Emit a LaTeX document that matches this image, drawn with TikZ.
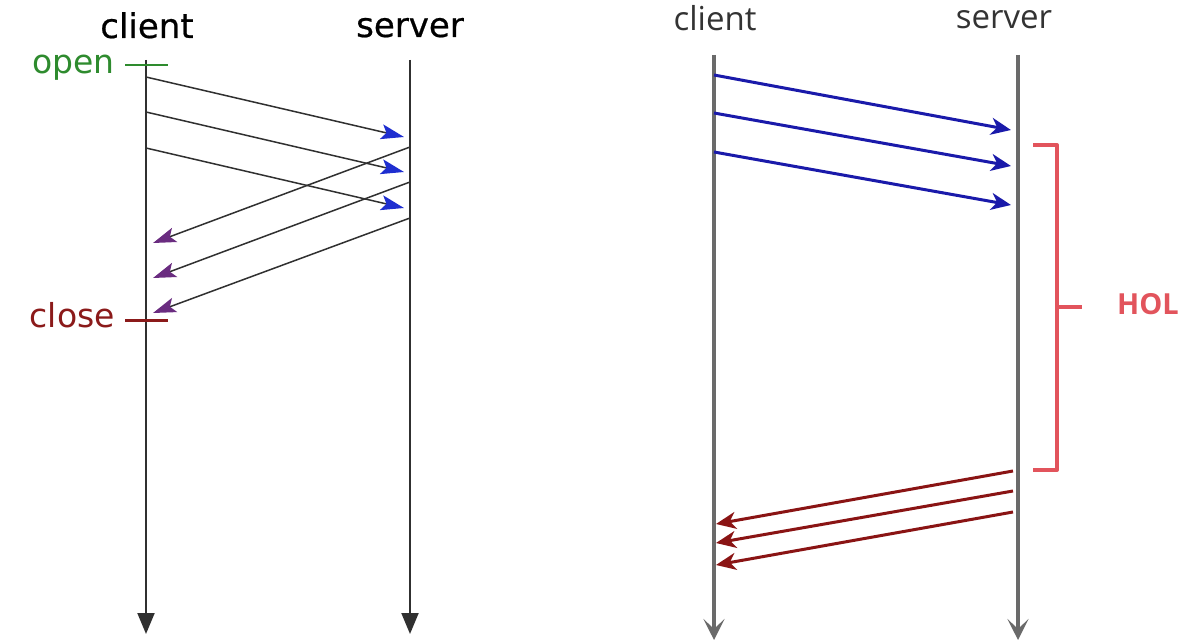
\documentclass[tikz,border=0pt]{standalone}
\usepackage{fontspec}
\setmainfont{DejaVu Sans}
\newfontfamily\osans{Open Sans}
\newfontfamily\dvheavy[FakeBold=0.6]{DejaVu Sans}
\usetikzlibrary{arrows.meta}
\definecolor{lline}{HTML}{303030}
\definecolor{rline}{HTML}{6A6A6A}
\definecolor{tipblue}{HTML}{1E2ED0}
\definecolor{tippurple}{HTML}{6A2C80}
\definecolor{msgblue}{HTML}{1A1AAA}
\definecolor{msgred}{HTML}{8A1414}
\definecolor{holred}{HTML}{E2545C}
\definecolor{opengreen}{HTML}{2E8B2E}
\definecolor{closered}{HTML}{8B1A1A}
\tikzset{
  lifeL/.style={draw=lline, line width=2pt, -{Triangle[length=21pt,width=17pt]}},
  lifeR/.style={draw=rline, line width=3.2pt, -{Stealth[length=21pt,width=21pt,inset=10pt]}},
  msgL/.style={draw=lline, line width=1.5pt},
  reqL/.style={msgL, -{Stealth[length=23pt,width=15pt,inset=5pt,color=tipblue]}},
  rspL/.style={msgL, -{Stealth[length=23pt,width=15pt,inset=5pt,color=tippurple]}},
  reqR/.style={draw=msgblue, line width=3pt, -{Stealth[length=20pt,width=17pt,inset=6pt]}},
  rspR/.style={draw=msgred, line width=3pt, -{Stealth[length=20pt,width=17pt,inset=6pt]}},
  headL/.style={font=\dvheavy\fontsize{34}{40}\selectfont, text=black, anchor=base, inner sep=0pt},
  headR/.style={font=\osans\fontsize{33}{40}\selectfont, text=black!80, anchor=base, inner sep=0pt},
  tag/.style={font=\fontsize{33}{40}\selectfont, anchor=base east, inner sep=0pt}
}
\begin{document}
\begin{tikzpicture}[x=1pt,y=-1pt]
\useasboundingbox[fill=white] (0,0) rectangle (1187,644);

% ---------- left diagram ----------
\node[headL] (lclient) at (147,38) {client};
\node[headL] (lserver) at (410,37) {server};
\coordinate (lcTop) at (146,60);
\coordinate (lcBot) at (146,634);
\coordinate (lsTop) at (410,60);
\coordinate (lsBot) at (410,634);
\draw[lifeL] (lcTop) -- (lcBot);
\draw[lifeL] (lsTop) -- (lsBot);

\coordinate (oL) at (125,65); \coordinate (oR) at (168,65);
\draw[draw=opengreen, line width=2.4pt] (oL) -- (oR);
\node[tag, text=opengreen] (open) at (115,74) {open};
\coordinate (xL) at (125,321); \coordinate (xR) at (168,321);
\draw[draw=closered, line width=3pt] (xL) -- (xR);
\node[tag, text=closered] (close) at (115,328) {close};

\coordinate (a1) at (146,77);  \coordinate (b1) at (404,137);
\coordinate (a2) at (146,112); \coordinate (b2) at (404,172);
\coordinate (a3) at (146,148); \coordinate (b3) at (404,208);
\draw[reqL] (a1) -- (b1);
\draw[reqL] (a2) -- (b2);
\draw[reqL] (a3) -- (b3);

\coordinate (c1) at (410,147); \coordinate (d1) at (153,243);
\coordinate (c2) at (410,182); \coordinate (d2) at (153,278);
\coordinate (c3) at (410,218); \coordinate (d3) at (153,313);
\draw[rspL] (c1) -- (d1);
\draw[rspL] (c2) -- (d2);
\draw[rspL] (c3) -- (d3);

% ---------- right diagram ----------
\node[headR] (rclient) at (715,31) {client};
\node[headR] (rserver) at (1004,29) {server};
\coordinate (rcTop) at (714,55);
\coordinate (rcBot) at (714,640);
\coordinate (rsTop) at (1018,55);
\coordinate (rsBot) at (1018,640);
\draw[lifeR] (rcTop) -- (rcBot);
\draw[lifeR] (rsTop) -- (rsBot);

\coordinate (e1) at (714,75);  \coordinate (f1) at (1011,130);
\coordinate (e2) at (714,113); \coordinate (f2) at (1011,166);
\coordinate (e3) at (714,152); \coordinate (f3) at (1011,205);
\draw[reqR] (e1) -- (f1);
\draw[reqR] (e2) -- (f2);
\draw[reqR] (e3) -- (f3);

\coordinate (g1) at (1013,471); \coordinate (h1) at (716,524);
\coordinate (g2) at (1013,491); \coordinate (h2) at (716,543);
\coordinate (g3) at (1013,512); \coordinate (h3) at (716,565);
\draw[rspR] (g1) -- (h1);
\draw[rspR] (g2) -- (h2);
\draw[rspR] (g3) -- (h3);

% HOL bracket
\coordinate (bt) at (1033,145);
\coordinate (bb) at (1033,470);
\coordinate (bm) at (1057,307);
\coordinate (bmR) at (1082,307);
\draw[draw=holred, line width=4pt, line join=round] (bt) -- (1057,145) -- (1057,470) -- (bb);
\draw[draw=holred, line width=4pt] (bm) -- (bmR);
\node[font=\osans\bfseries\fontsize{29}{34}\selectfont, text=holred, anchor=base, inner sep=0pt] (hol) at (1148,315) {HOL};
\end{tikzpicture}
\end{document}
